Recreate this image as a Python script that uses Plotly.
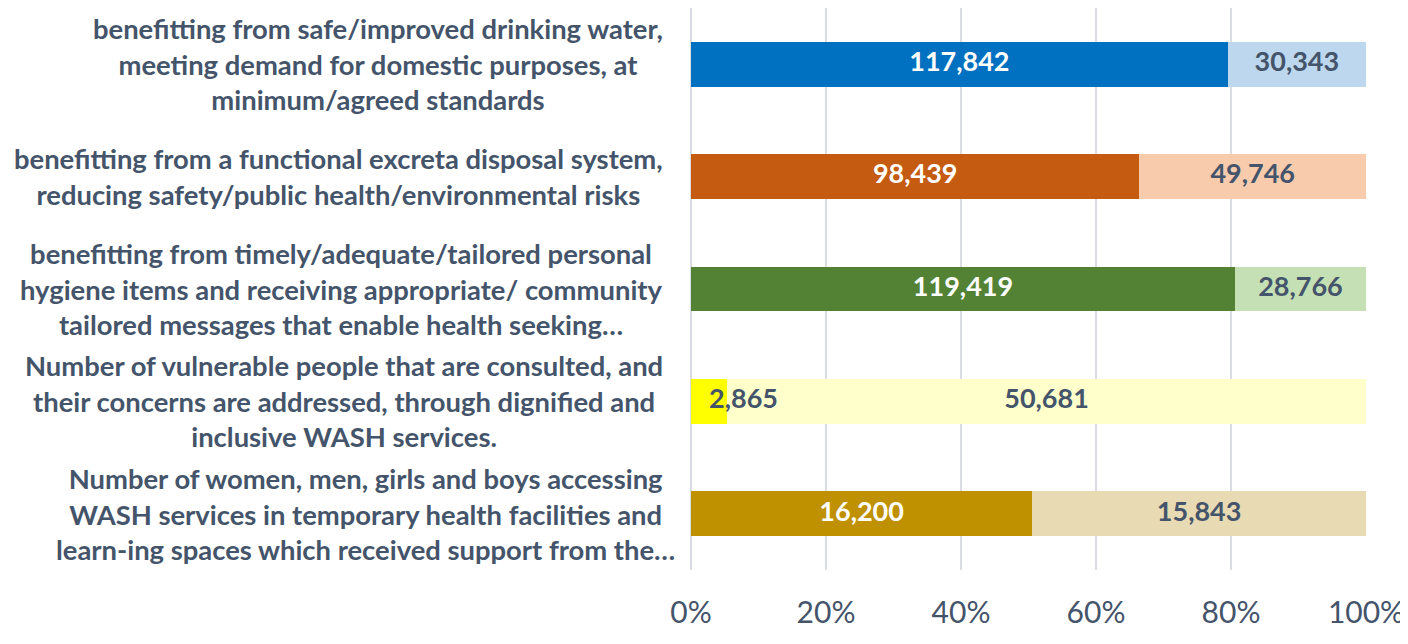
import plotly.graph_objects as go

# ---- data ----
label_lines = [
    ["benefitting from safe/improved drinking water,",
     "meeting demand for domestic purposes, at",
     "minimum/agreed standards"],
    ["benefitting from a functional excreta disposal system,",
     "reducing safety/public health/environmental risks"],
    ["benefitting from timely/adequate/tailored personal",
     "hygiene items and receiving appropriate/ community",
     "tailored messages that enable health seeking…"],
    ["Number of vulnerable people that are consulted, and",
     "their concerns are addressed, through dignified and",
     "inclusive WASH services."],
    ["Number of women, men, girls and boys accessing",
     "WASH services in temporary health facilities and",
     "learn-ing spaces which received support from the…"],
]
achieved = [117842, 98439, 119419, 2865, 16200]
remaining = [30343, 49746, 28766, 50681, 15843]
tick_vals = [0, 20, 40, 60, 80, 100]
tick_text = ["0%", "20%", "40%", "60%", "80%", "100%"]

dark_colors = ["#0070C0", "#C55A11", "#548235", "#FFFF00", "#BF9000"]
light_colors = ["#BDD7EE", "#F8CBAD", "#C5E0B4", "#FFFFCC", "#E8DAB2"]
dark_text_colors = ["#FFFFFF", "#FFFFFF", "#FFFFFF", "#44546A", "#FFFFFF"]
label_shift = [-26, -26, -26, -26, -14]

TXT = "#44546A"
FONT = "Lato, sans-serif"

cats = [" ".join(l) for l in label_lines]

fig = go.Figure()
fig.add_trace(go.Bar(y=cats, x=achieved, orientation="h",
                     marker=dict(color=dark_colors, line=dict(width=0)),
                     hoverinfo="skip", showlegend=False))
fig.add_trace(go.Bar(y=cats, x=remaining, orientation="h",
                     marker=dict(color=light_colors, line=dict(width=0)),
                     hoverinfo="skip", showlegend=False))

# data labels computed from data (percent positions)
tot = [a + b for a, b in zip(achieved, remaining)]
mid1 = [a / t * 100 / 2 for a, t in zip(achieved, tot)]
mid2 = [(a + b / 2) / t * 100 for a, b, t in zip(achieved, remaining, tot)]
pos1 = ["middle right" if a / t < 0.1 else "middle center" for a, t in zip(achieved, tot)]

fig.add_trace(go.Scatter(
    y=cats, x=mid1, mode="text",
    text=[f"{v:,}" for v in achieved], textposition=pos1,
    textfont=dict(family=FONT, size=27, color=dark_text_colors, weight="bold"),
    hoverinfo="skip", showlegend=False, cliponaxis=False))
fig.add_trace(go.Scatter(
    y=cats, x=mid2, mode="text",
    text=[f"{v:,}" for v in remaining], textposition="middle center",
    textfont=dict(family=FONT, size=27, color=TXT, weight="bold"),
    hoverinfo="skip", showlegend=False, cliponaxis=False))

annotations = []
for c, lines, sh in zip(cats, label_lines, label_shift):
    annotations.append(dict(
        xref="paper", yref="y", x=0, y=c, xanchor="right", yanchor="middle",
        xshift=sh, text="<br>".join(lines), align="center", showarrow=False,
        font=dict(family=FONT, size=27.4, color=TXT, weight="bold")))

# page body has an 8px margin, so the figure is offset by 8px
fig.update_layout(
    width=1400, height=636,
    margin=dict(l=683, r=42, t=0, b=74),
    paper_bgcolor="white", plot_bgcolor="white",
    barmode="stack", barnorm="percent", bargap=0.6,
    annotations=annotations,
    xaxis=dict(range=[0, 100], tickvals=tick_vals, ticktext=tick_text,
               showgrid=True, gridcolor="#D9DDE3", gridwidth=1.5,
               zeroline=True, zerolinecolor="#D9DDE3", zerolinewidth=1.5,
               showline=False, ticks="", ticklabelstandoff=22,
               tickfont=dict(family=FONT, size=30, color=TXT)),
    yaxis=dict(categoryorder="array", categoryarray=cats, autorange="reversed",
               showticklabels=False, showgrid=False, zeroline=False, ticks=""),
)

fig.write_html("out.html")
